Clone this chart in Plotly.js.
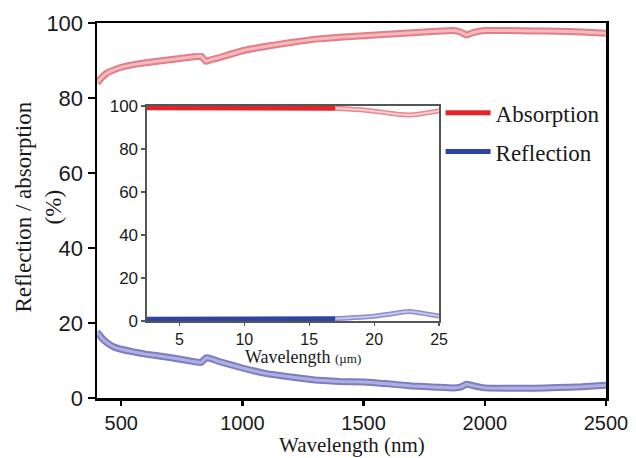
<!DOCTYPE html>
<html>
<head>
<meta charset="utf-8">
<script src="https://cdn.plot.ly/plotly-3.0.1.min.js"></script>
<style>html,body{margin:0;padding:0;background:#fff;}#chart{width:636px;height:458px;}</style>
</head>
<body>
<div id="chart"></div>
<script>
// Main panel: UV-Vis-NIR (nm)
const wlMain = [400, 420, 440, 470, 500, 550, 600, 700, 800, 830, 850, 870, 900, 1000, 1100, 1200, 1300, 1400, 1500, 1600, 1700, 1800, 1870, 1900, 1925, 1950, 2000, 2100, 2200, 2300, 2400, 2500];
const absMain = [84.0, 85.5, 86.6, 87.5, 88.2, 88.9, 89.4, 90.2, 91.0, 91.1, 89.8, 90.2, 90.7, 92.6, 93.8, 94.8, 95.7, 96.2, 96.6, 97.0, 97.4, 97.8, 98.0, 97.6, 96.8, 97.4, 98.0, 98.0, 97.9, 97.8, 97.6, 97.3];
const refMain = [17.6, 16.0, 14.8, 13.6, 13.0, 12.3, 11.7, 10.8, 9.7, 9.5, 10.7, 10.5, 9.8, 8.0, 6.5, 5.6, 4.8, 4.4, 4.3, 3.8, 3.2, 2.9, 2.7, 2.9, 3.7, 3.3, 2.7, 2.6, 2.6, 2.8, 3.0, 3.4];

// Inset: IR (um)
const wlIR = [2.5, 5, 7.5, 10, 12.5, 15, 17, 18, 19, 20, 21, 22, 22.7, 23.5, 24.5, 25];
const absIR = [99.2, 99.2, 99.1, 99.2, 99.1, 99.2, 99.0, 98.6, 98.2, 97.6, 96.8, 96.0, 95.8, 96.3, 97.2, 97.8];
const refIR = [0.8, 0.8, 0.9, 1.0, 0.9, 1.0, 1.1, 1.4, 1.8, 2.2, 3.0, 4.0, 4.4, 3.8, 2.8, 2.3];
const splitIdx = 6; // saturated part up to ~17 um, light band after

const mainXTicks = [500, 1000, 1500, 2000, 2500];
const mainYTicks = [0, 20, 40, 60, 80, 100];
const irXTicks = [5, 10, 15, 20, 25];
const irYTicks = [0, 20, 40, 60, 80, 100];

const serif = "Liberation Serif, Times New Roman, serif";
const sans = "Liberation Sans, Arial, sans-serif";

function band(x, y, outer, inner, wo, wi, xa, ya) {
  return [
    {x: x, y: y, xaxis: xa, yaxis: ya, mode: 'lines', line: {color: outer, width: wo, shape: 'spline', smoothing: 0.3}, showlegend: false, hoverinfo: 'skip'},
    {x: x, y: y, xaxis: xa, yaxis: ya, mode: 'lines', line: {color: inner, width: wi, shape: 'spline', smoothing: 0.3}, showlegend: false, hoverinfo: 'skip'}
  ];
}

const traces = [];
traces.push(...band(wlMain, absMain, '#e07f88', '#f5b8bc', 7, 3, 'x', 'y'));
traces.push(...band(wlMain, refMain, '#7c7dc0', '#aeb0e0', 7, 3, 'x', 'y'));
// inset light tails
traces.push(...band(wlIR.slice(splitIdx), absIR.slice(splitIdx), '#e48a92', '#f7cdd0', 5, 2, 'x2', 'y2'));
traces.push(...band(wlIR.slice(splitIdx), refIR.slice(splitIdx), '#8d8ece', '#c6c7ea', 5, 2, 'x2', 'y2'));
// inset saturated parts (also legend carriers)
traces.push({x: wlIR.slice(0, splitIdx + 1), y: absIR.slice(0, splitIdx + 1), xaxis: 'x2', yaxis: 'y2', mode: 'lines', name: 'Absorption', legendgroup: 'a', line: {color: '#e3242b', width: 5}});
traces.push({x: wlIR.slice(0, splitIdx + 1), y: refIR.slice(0, splitIdx + 1), xaxis: 'x2', yaxis: 'y2', mode: 'lines', name: 'Reflection', legendgroup: 'b', line: {color: '#2f43a0', width: 5}});

const layout = {
  width: 636, height: 458,
  margin: {l: 97, r: 30, t: 23, b: 60},
  paper_bgcolor: '#ffffff', plot_bgcolor: '#ffffff',
  font: {family: sans, color: '#1a1a1a'},
  showlegend: true,
  legend: {x: 0.675, y: 0.818, xanchor: 'left', yanchor: 'top', bgcolor: 'rgba(0,0,0,0)',
           font: {family: serif, size: 23, color: '#1a1a1a'}, tracegroupgap: 6, traceorder: 'grouped', itemwidth: 45},
  xaxis: {range: [400, 2500], tickvals: mainXTicks, ticks: 'outside', ticklen: 5, tickwidth: 2.5, tickcolor: '#000',
          showline: true, linewidth: 2.5, linecolor: '#000', mirror: true, showgrid: false, zeroline: false,
          tickfont: {family: sans, size: 20, color: '#1a1a1a'}},
  yaxis: {range: [0, 100], tickvals: mainYTicks, ticks: 'outside', ticklen: 7, tickwidth: 2.5, tickcolor: '#000',
          showline: true, linewidth: 2.5, linecolor: '#000', mirror: true, showgrid: false, zeroline: false,
          tickfont: {family: sans, size: 22, color: '#1a1a1a'}},
  xaxis2: {domain: [0.0982, 0.672], anchor: 'y2', range: [2.5, 25], tickvals: irXTicks, ticks: 'outside', ticklen: 3, tickwidth: 1.2, tickcolor: '#555',
           showline: true, linewidth: 1.5, linecolor: '#555', mirror: true, showgrid: false, zeroline: false,
           tickfont: {family: sans, size: 16, color: '#1a1a1a'}},
  yaxis2: {domain: [0.2053, 0.7787], anchor: 'x2', range: [0, 100], tickvals: irYTicks, ticks: 'outside', ticklen: 4, tickwidth: 1.2, tickcolor: '#555',
           showline: true, linewidth: 1.5, linecolor: '#555', mirror: true, showgrid: false, zeroline: false,
           tickfont: {family: sans, size: 17, color: '#1a1a1a'}},
  annotations: [
    {text: 'Reflection / absorption<br>(%)', xref: 'paper', yref: 'paper', x: -0.115, y: 0.509,
     xanchor: 'center', yanchor: 'middle', textangle: -90, showarrow: false,
     font: {family: serif, size: 23, color: '#1a1a1a'}},
    {text: 'Wavelength (nm)', xref: 'paper', yref: 'paper', x: 0.5, y: -0.16,
     xanchor: 'center', yanchor: 'bottom', showarrow: false, borderpad: 0,
     font: {family: serif, size: 21, color: '#1a1a1a'}},
    {text: 'Wavelength <span style="font-size:13px">(µm)</span>', xref: 'paper', yref: 'paper', x: 0.405, y: 0.11,
     xanchor: 'center', yanchor: 'middle', showarrow: false, borderpad: 0,
     font: {family: serif, size: 18, color: '#1a1a1a'}}
  ]
};

Plotly.newPlot('chart', traces, layout, {staticPlot: true, displayModeBar: false});
</script>
</body>
</html>
